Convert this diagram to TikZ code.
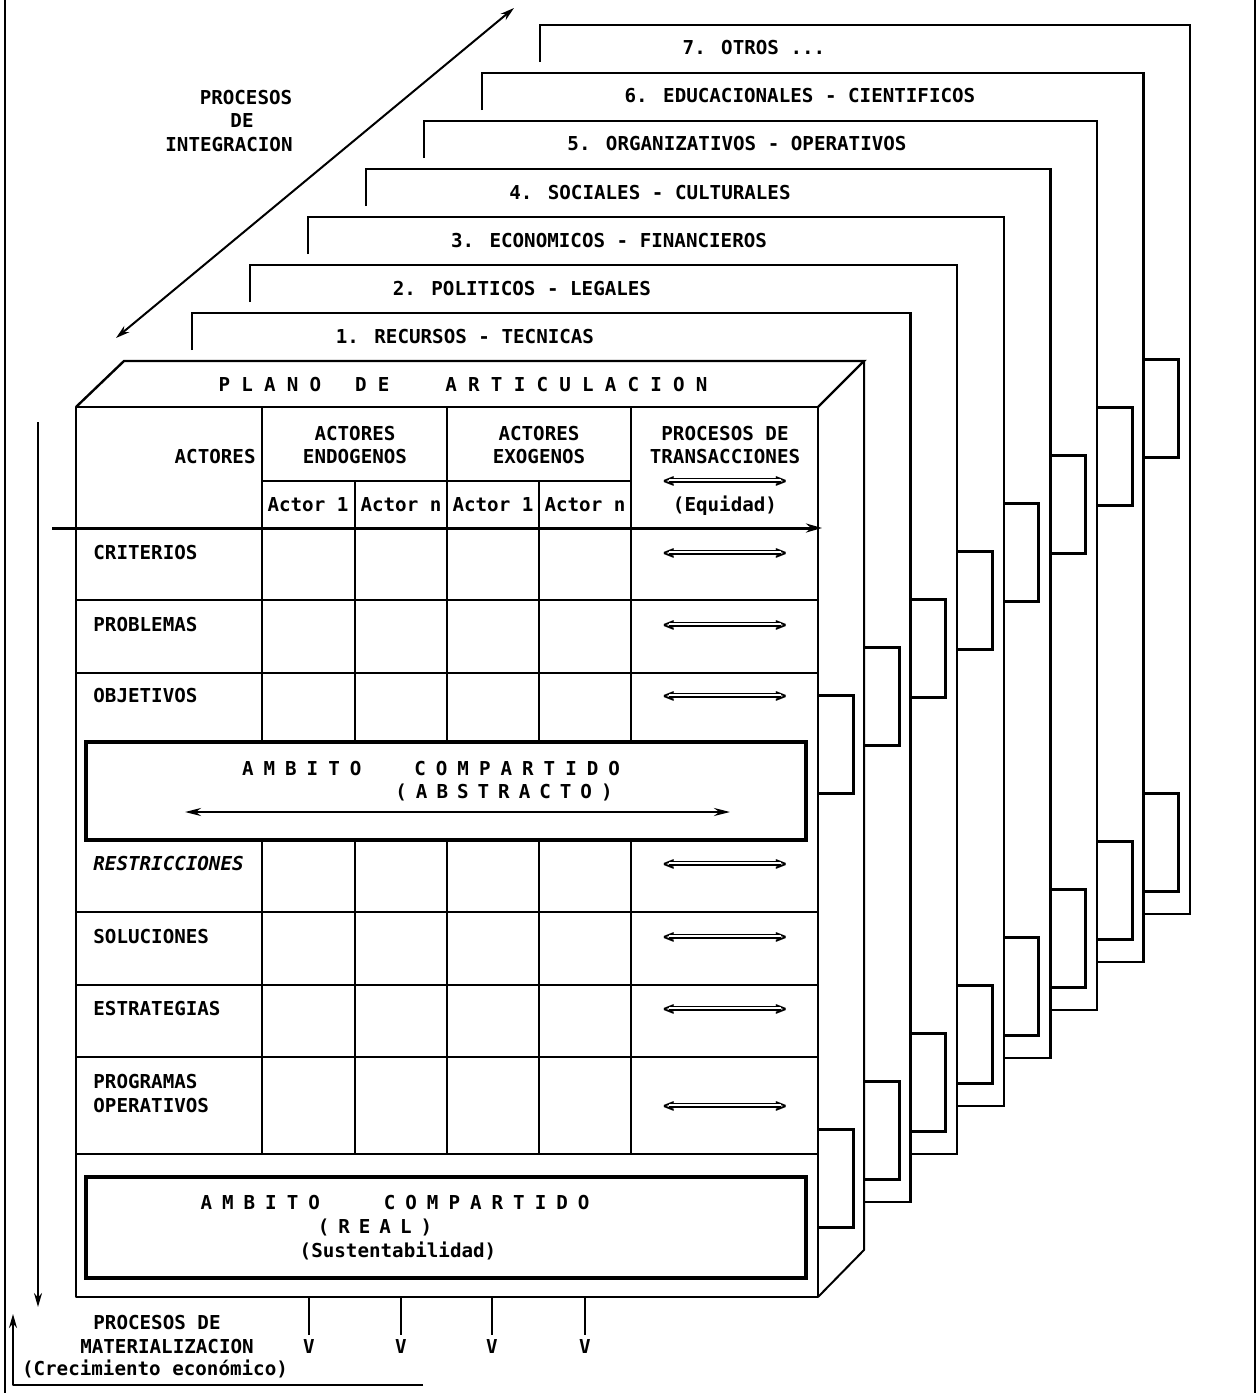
\documentclass[tikz,border=0pt]{standalone}
\usepackage{fontspec}
\setmainfont{DejaVu Sans Mono}
\usetikzlibrary{arrows.meta}
\newcommand{\pgp}{\hspace{5.6pt}}
\newcommand{\agp}{\hspace{5pt}}
\newcommand{\bgp}{\hspace{4.5pt}}
\tikzset{
  ln/.style={line width=1pt, line join=round},
  plane/.style={line width=1.2pt, line join=miter},
  tabbox/.style={line width=1.5pt, line join=miter},
  thickbox/.style={line width=1.8pt, line join=miter},
  txt/.style={font=\fontsize{9.6}{11}\selectfont\bfseries, inner sep=0pt, text height=7pt, text depth=0pt},
  lbl/.style={txt, anchor=west},
  tipd/.style={-{Stealth[length=7pt,width=4pt]}},
  tipdd/.style={{Stealth[length=7pt,width=4pt]}-{Stealth[length=7pt,width=4pt]}},
}
\newcommand{\transarr}[3]{%
  \node[txt] (#1l) at (#2-56,#3) {<};
  \node[txt] (#1r) at (#2+56,#3) {>};
  \draw[line width=0.6pt, double, double distance=1.3pt] (#1l.center) -- (#1r.center);
}
\begin{document}
\begin{tikzpicture}[x=0.5pt,y=-0.5pt]
\useasboundingbox (0,0) rectangle (1258,1393);
% page border lines
\draw[ln] (5,0) -- (5,1393);
\draw[ln] (1255,0) -- (1255,1393);

% integration arrow and label
\coordinate (ia) at (116,338);
\coordinate (ib) at (514,8);
\draw[ln, tipdd] (ia) -- (ib);
\node[txt] (pi1) at (246,97) {PROCESOS};
\node[txt] (pi2) at (242,120) {DE};
\node[txt] (pi3) at (229,144) {INTEGRACION};

% stacked planes
\foreach \k in {1,...,7} {
  \pgfmathsetmacro\L{192+58*(\k-1)}
  \pgfmathsetmacro\T{313-48*(\k-1)}
  \pgfmathsetmacro\R{864+46.6*\k}
  \pgfmathsetmacro\P{864+46.6*(\k-1)}
  \pgfmathsetmacro\B{1250-48*\k}
  \draw[plane] (\L,\T+37) -- (\L,\T) -- (\R,\T) -- (\R,\B) -- (\P,\B);
}
\node[txt] (p1) at (465,336) {1. RECURSOS - TECNICAS};
\node[txt] (p2) at (522,288) {2. POLITICOS - LEGALES};
\node[txt] (p3) at (609,240) {3. ECONOMICOS - FINANCIEROS};
\node[txt] (p4) at (650,192) {4. SOCIALES - CULTURALES};
\node[txt] (p5) at (737,143) {5. ORGANIZATIVOS - OPERATIVOS};
\node[txt] (p6) at (800,95) {6. EDUCACIONALES - CIENTIFICOS};
\node[txt] (p7) at (754,47) {7. OTROS ...};

% tabs
\foreach \i/\X in {0/818,1/864,2/910.6,3/957.2,4/1003.8,5/1050.4,6/1097,7/1143.6} {
  \pgfmathsetmacro\U{695-48*\i}
  \pgfmathsetmacro\D{1129-48*\i}
  \draw[tabbox] (\X,\U) -- (\X+35,\U) -- (\X+35,\U+98) -- (\X,\U+98);
  \draw[tabbox] (\X,\D) -- (\X+35,\D) -- (\X+35,\D+98) -- (\X,\D+98);
}

% main box
\draw[plane] (76,407) -- (124,361) -- (864,361) -- (818,407);
\draw[ln] (864,361) -- (864,1250) -- (818,1297);
\draw[ln] (76,407) rectangle (818,1297);
\draw[plane] (76,407) -- (818,407);
\node[txt] (plano) at (463,384) {P\pgp L\pgp A\pgp N\pgp O\hspace{17pt}D\pgp E\hspace{28pt}A\pgp R\pgp T\pgp I\pgp C\pgp U\pgp L\pgp A\pgp C\pgp I\pgp O\pgp N};

% table grid
\foreach \x in {262,447,631} {
  \draw[ln] (\x,407) -- (\x,742);
  \draw[ln] (\x,840) -- (\x,1154);
}
\foreach \x in {355,539} {
  \draw[ln] (\x,481) -- (\x,742);
  \draw[ln] (\x,840) -- (\x,1154);
}
\draw[ln] (262,481) -- (631,481);
\foreach \y in {600,673,912,985,1057,1154} {
  \draw[ln] (76,\y) -- (818,\y);
}
\coordinate (ha) at (52,528);
\coordinate (hb) at (822,528);
\draw[line width=1.5pt, -{Stealth[length=8pt,width=4.5pt]}] (ha) -- (hb);

% header text
\node[txt, anchor=east] (act) at (256,456) {ACTORES};
\node[txt] (en1) at (355,433) {ACTORES};
\node[txt] (en2) at (355,456) {ENDOGENOS};
\node[txt] (ex1) at (539,433) {ACTORES};
\node[txt] (ex2) at (539,456) {EXOGENOS};
\node[txt] (tr1) at (725,433) {PROCESOS DE};
\node[txt] (tr2) at (725,456) {TRANSACCIONES};
\transarr{th}{725}{480}
\node[txt] (eq) at (725,504) {(Equidad)};
\node[txt] (a1) at (308,504) {Actor 1};
\node[txt] (a2) at (401,504) {Actor n};
\node[txt] (a3) at (493,504) {Actor 1};
\node[txt] (a4) at (585,504) {Actor n};

% row labels
\node[lbl] (r1) at (93,552) {CRITERIOS};
\node[lbl] (r2) at (93,624) {PROBLEMAS};
\node[lbl] (r3) at (93,695) {OBJETIVOS};
\node[lbl, font=\fontsize{9.6}{11}\selectfont\bfseries\itshape] (r4) at (93,863) {RESTRICCIONES};
\node[lbl] (r5) at (93,936) {SOLUCIONES};
\node[lbl] (r6) at (93,1008) {ESTRATEGIAS};
\node[lbl] (r7a) at (93,1081) {PROGRAMAS};
\node[lbl] (r7b) at (93,1105) {OPERATIVOS};
\transarr{t1}{725}{552}
\transarr{t2}{725}{624}
\transarr{t3}{725}{695}
\transarr{t4}{725}{863}
\transarr{t5}{725}{936}
\transarr{t6}{725}{1008}
\transarr{t7}{725}{1105}

% abstract shared space
\draw[thickbox] (86,742) rectangle (806,840);
\node[txt] (abs1) at (431,768) {A\agp M\agp B\agp I\agp T\agp O\hspace{26.5pt}C\agp O\agp M\agp P\agp A\agp R\agp T\agp I\agp D\agp O};
\node[txt] (abs2) at (504,791) {(\bgp A\bgp B\bgp S\bgp T\bgp R\bgp A\bgp C\bgp T\bgp O\bgp )};
\coordinate (aa) at (185,812);
\coordinate (ab) at (730,812);
\draw[line width=1.2pt, {Stealth[length=8pt,width=4pt]}-{Stealth[length=8pt,width=4pt]}] (aa) -- (ab);

% real shared space
\draw[thickbox] (86,1177) rectangle (806,1278);
\node[txt] (re1) at (395,1202) {A\agp M\agp B\agp I\agp T\agp O\hspace{32pt}C\agp O\agp M\agp P\agp A\agp R\agp T\agp I\agp D\agp O};
\node[txt] (re2) at (375,1226) {(\bgp R\bgp E\bgp A\bgp L\bgp )};
\node[txt] (re3) at (398,1250) {(Sustentabilidad)};

% left arrows
\coordinate (da) at (38,422);
\coordinate (db) at (38,1307);
\draw[ln, tipd] (da) -- (db);
\coordinate (ua) at (423,1385);
\coordinate (uc) at (13,1385);
\coordinate (ub) at (13,1314);
\draw[ln, tipd] (ua) -- (uc) -- (ub);

% materialization
\node[txt] (m1) at (157,1322) {PROCESOS DE};
\node[txt] (m2) at (167,1346) {MATERIALIZACION};
\node[txt] (m3) at (155,1368) {(Crecimiento económico)};
\foreach \x/\n in {309/v1,401/v2,492/v3,585/v4} {
  \coordinate (\n a) at (\x,1297);
  \node[txt] (\n) at (\x,1346) {V};
  \draw[ln] (\n a) -- (\x,1335);
}
\end{tikzpicture}
\end{document}
